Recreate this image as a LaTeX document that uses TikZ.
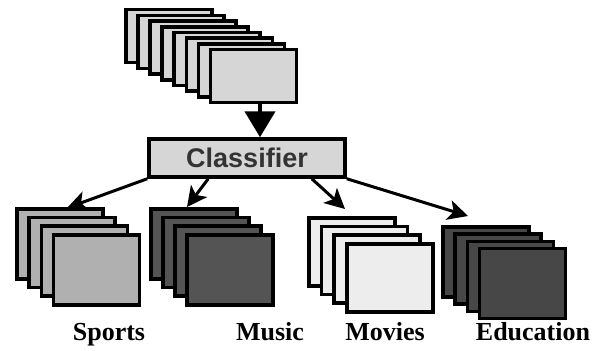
\documentclass[tikz,border=0pt]{standalone}
\usepackage{fontspec}
\setmainfont{Liberation Serif}
\setsansfont{Liberation Sans}
\usetikzlibrary{arrows.meta}

\definecolor{docgray}{gray}{0.84}
\definecolor{sportsgray}{gray}{0.69}
\definecolor{musicgray}{gray}{0.33}
\definecolor{moviesgray}{gray}{0.93}
\definecolor{edugray}{gray}{0.28}

\tikzset{
  card/.style={draw, line width=3.5pt, fill=#1, inner sep=0pt, anchor=north west,
               minimum width=86pt, minimum height=70pt},
  doccard/.style={card=docgray, minimum height=53pt},
  sortarrow/.style={line width=3pt, -{Stealth[length=20pt,width=20pt,inset=5pt]}},
  catlabel/.style={font=\fontsize{26}{26}\selectfont\bfseries},
}

\begin{document}
\begin{tikzpicture}[x=1pt,y=-1pt]
                \useasboundingbox (0,0) rectangle (593,350);

                % Incoming documents
                \foreach \i in {0,...,7}
                    \node[doccard] (doc\i) at (124+12.1*\i, 8+5.7*\i) {};

                % Classifier
                \node[draw, line width=3.5pt, fill=docgray, minimum width=196pt, minimum height=38pt,
                      text=black!80, font=\sffamily\bfseries\fontsize{27}{27}\selectfont]
                    (classifier) at (247,158) {Classifier};
                \coordinate (drop) at (260,101);
                \draw[line width=4.5pt, -{Triangle[length=26pt,width=30pt]}] (drop) -- (drop |- classifier.north);

                % Categories
                \foreach \i in {0,...,3} {
                    \node[card=sportsgray] (sports\i) at (15+12.3*\i, 207+8.7*\i) {};
                    \node[card=musicgray] (music\i) at (149+12*\i, 207+8.7*\i) {};
                    \node[card=moviesgray, minimum height=68pt] (movies\i) at (307+12.7*\i, 216+8.7*\i) {};
                    \node[card=edugray] (edu\i) at (441+12.3*\i, 225+7.3*\i) {};
                }

                % Arrows to categories
                \coordinate (tosports) at (67,208);
                \coordinate (tomusic) at (187,207);
                \coordinate (tomovies) at (345,209);
                \coordinate (toedu) at (468,216);
                \draw[sortarrow] (classifier.south west) -- (tosports);
                \draw[sortarrow] ([xshift=61pt]classifier.south west) -- (tomusic);
                \draw[sortarrow] ([xshift=-35pt]classifier.south east) -- (tomovies);
                \draw[sortarrow] (classifier.south east) -- (toedu);

                \node[catlabel] (sportslabel) at (109,335) {Sports};
                \node[catlabel] (musiclabel) at (270,332) {Music};
                \node[catlabel] (movieslabel) at (385,332) {Movies};
                \node[catlabel] (edulabel) at (533,332) {Education};
            \end{tikzpicture}
\end{document}
